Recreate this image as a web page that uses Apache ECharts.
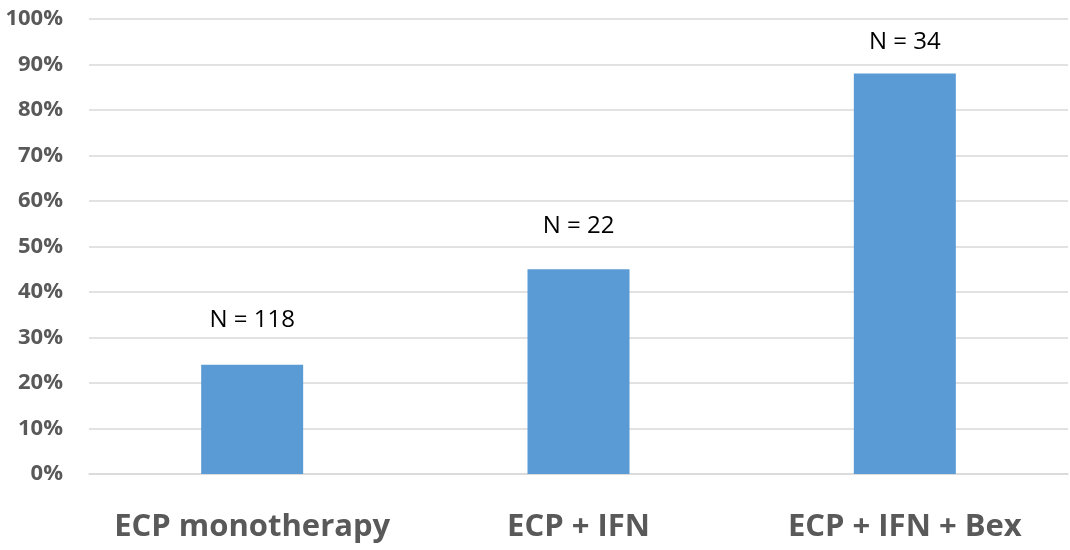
<!DOCTYPE html>
<html>
<head>
<meta charset="utf-8">
<script src="https://cdn.jsdelivr.net/npm/echarts@6/dist/echarts.min.js"></script>
<style>
  html, body { margin: 0; padding: 0; background: #fff; }
  #chart { width: 1070px; height: 550px; }
</style>
</head>
<body>
<div id="chart"></div>
<script>
// Treatment groups, response rate (%) and group sizes
const categories = ['ECP monotherapy', 'ECP + IFN', 'ECP + IFN + Bex'];
const responseRates = [24, 45, 88];
const groupSizes = [118, 22, 34];
const labelGaps = [33, 31, 19];

const chart = echarts.init(document.getElementById('chart'));

chart.setOption({
  animation: false,
  grid: { left: 89, right: 2, top: 19, bottom: 76 },
  xAxis: {
    type: 'category',
    data: categories,
    axisLine: { lineStyle: { color: '#d9d9d9', width: 1.5 } },
    axisTick: { show: false },
    axisLabel: {
      interval: 0,
      hideOverlap: false,
      margin: 38,
      color: '#595959',
      fontFamily: 'Open Sans',
      fontWeight: 'bold',
      fontSize: 31
    }
  },
  yAxis: {
    type: 'value',
    min: 0,
    max: 100,
    interval: 10,
    axisLine: { show: false },
    axisTick: { show: false },
    splitLine: { lineStyle: { color: '#d9d9d9', width: 1.5 } },
    axisLabel: {
      margin: 26,
      formatter: '{value}%',
      color: '#595959',
      fontFamily: 'Open Sans',
      fontWeight: 'bold',
      fontSize: 22
    }
  },
  series: [{
    type: 'bar',
    barWidth: 102,
    itemStyle: { color: '#5b9bd5' },
    data: responseRates.map((v, i) => ({
      value: v,
      label: {
        show: true,
        position: 'top',
        distance: labelGaps[i],
        formatter: 'N = ' + groupSizes[i],
        color: '#000',
        fontFamily: 'Open Sans',
        fontSize: 24
      }
    }))
  }]
});
</script>
</body>
</html>
